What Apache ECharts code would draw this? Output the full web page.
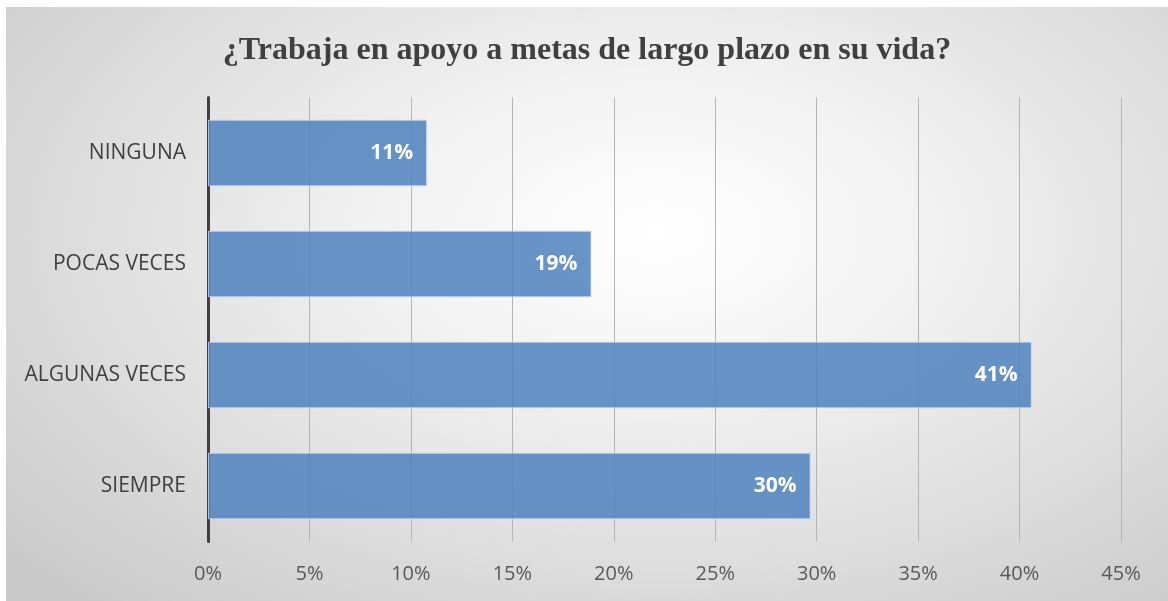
<!DOCTYPE html>
<html>

<head>
    <meta charset="utf-8">
    <script src="https://cdn.jsdelivr.net/npm/echarts@6/dist/echarts.min.js"></script>
    <style>
        html, body { margin: 0; padding: 0; background: #fff; }
        #main {
            position: absolute; left: 6px; top: 7px;
            width: 1162px; height: 594px;
            background: radial-gradient(ellipse 75% 85% at 56% 38%, #ffffff 0%, #f3f3f3 30%, #dedede 65%, #c9c9c9 100%);
        }
    </style>
</head>

<body>
    <div id="main"></div>
    <script type="text/javascript">
        // datos del gráfico
        var titulo = '¿Trabaja en apoyo a metas de largo plazo en su vida?';
        var categorias = ['NINGUNA', 'POCAS VECES', 'ALGUNAS VECES', 'SIEMPRE'];
        var porcentajes = [10.8, 18.9, 40.6, 29.7];
        var ejeMax = 45;
        var ejePaso = 5;

        var myChart = echarts.init(document.getElementById('main'));
        var option = {
            backgroundColor: 'transparent',
            title: {
                text: titulo,
                left: 'center',
                top: 23,
                textStyle: {
                    fontFamily: 'Liberation Serif',
                    fontWeight: 'bold',
                    fontSize: 32,
                    color: '#404040'
                }
            },
            grid: {
                left: 202,
                right: 47,
                top: 90.5,
                bottom: 59.5,
                containLabel: false
            },
            xAxis: {
                type: 'value',
                min: 0,
                max: ejeMax,
                interval: ejePaso,
                axisLine: { show: false },
                axisTick: { show: false },
                splitLine: { lineStyle: { color: '#b4b4b4', width: 1 } },
                axisLabel: {
                    formatter: '{value}%',
                    margin: 23,
                    fontFamily: 'Open Sans',
                    fontSize: 20,
                    color: '#595959'
                }
            },
            yAxis: {
                type: 'category',
                inverse: true,
                data: categorias,
                axisLine: { lineStyle: { color: '#404040', width: 3 } },
                axisTick: { show: false },
                axisLabel: {
                    margin: 22,
                    fontFamily: 'Open Sans',
                    fontSize: 21,
                    color: '#404040'
                }
            },
            series: [{
                type: 'bar',
                data: porcentajes,
                barCategoryGap: '40%',
                z: 1,
                itemStyle: {
                    color: 'rgba(79,129,189,0.85)',
                    borderColor: 'rgba(200,220,245,0.8)',
                    borderWidth: 1
                },
                label: {
                    show: true,
                    position: 'insideRight',
                    distance: 14,
                    formatter: function (p) { return Math.round(p.value) + '%'; },
                    fontFamily: 'Open Sans',
                    fontWeight: 'bold',
                    fontSize: 21,
                    color: '#ffffff'
                }
            }]
        };
        myChart.setOption(option);
    </script>
</body>

</html>
